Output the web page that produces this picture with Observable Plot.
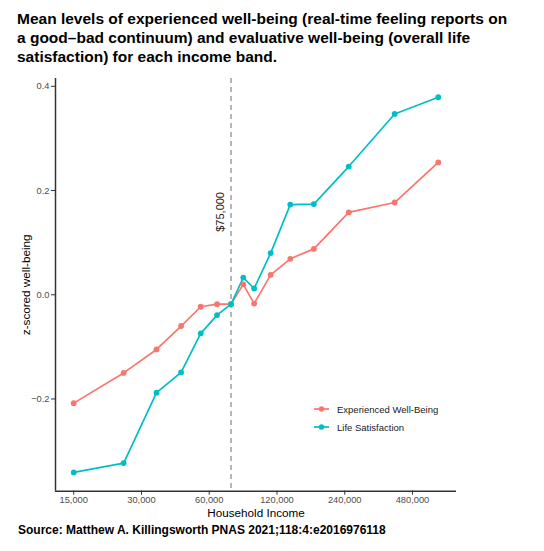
<!DOCTYPE html>
<html>
<head>
<meta charset="utf-8">
<script src="https://cdn.jsdelivr.net/npm/d3@7"></script>
<script src="https://cdn.jsdelivr.net/npm/@observablehq/plot@0.6"></script>
<style>
  html, body { margin: 0; padding: 0; background: #fff; }
  #wrap { position: relative; width: 544px; height: 551px; overflow: hidden; font-family: "Liberation Sans", Arial, sans-serif; }
  #title { position: absolute; left: 17px; top: 9px; font-weight: bold; font-size: 15.5px; line-height: 19px; color: #000; white-space: nowrap; }
  #chart { position: absolute; left: 0; top: 70px; }
  #caption { position: absolute; left: 18px; top: 523px; font-weight: bold; font-size: 12px; line-height: 14px; color: #000; white-space: nowrap; }
  #legend { position: absolute; left: 310px; top: 400px; font-size: 9.5px; color: #1a1a1a; }
  .row { display: flex; align-items: center; height: 18px; }
  .row svg { display: block; }
</style>
</head>
<body>
<div id="wrap">
  <div id="title">Mean levels of experienced well-being (real-time feeling reports on<br>a good–bad continuum) and evaluative well-being (overall life<br>satisfaction) for each income band.</div>
  <div id="chart"></div>
  <div id="legend"></div>
  <div id="caption">Source: Matthew A. Killingsworth PNAS 2021;118:4:e2016976118</div>
</div>
<script>
// ---- data ----
const incomes = [15000, 25000, 35000, 45000, 55000, 65000, 75000, 85000, 95000, 112500, 137500, 175000, 250000, 400000, 625000];
const experienced = [-0.208, -0.150, -0.105, -0.060, -0.023, -0.018, -0.018, 0.020, -0.017, 0.038, 0.069, 0.088, 0.158, 0.177, 0.254];
const lifeSatisfaction = [-0.341, -0.323, -0.188, -0.149, -0.074, -0.039, -0.018, 0.033, 0.012, 0.080, 0.173, 0.174, 0.246, 0.347, 0.379];
const seriesNames = ["Experienced Well-Being", "Life Satisfaction"];
const seriesColors = ["#F8766D", "#00BFC4"];
const xTicks = [15000, 30000, 60000, 120000, 240000, 480000];
const yTicks = [-0.2, 0.0, 0.2, 0.4];
const thresholdIncome = [75000];
const thresholdLabel = ["$75,000"];
const thresholdLabelY = [0.159];

// ---- build table ----
const rows = [];
incomes.forEach((inc, i) => {
  rows.push({income: inc, value: experienced[i], series: seriesNames[0]});
  rows.push({income: inc, value: lifeSatisfaction[i], series: seriesNames[1]});
});

// ggplot-like 5% expansion
const lx0 = Math.log2(d3.min(incomes)), lx1 = Math.log2(d3.max(incomes));
const xPad = (lx1 - lx0) * 0.05;
const xDomain = [2 ** (lx0 - xPad), 2 ** (lx1 + xPad)];
const allY = experienced.concat(lifeSatisfaction);
const y0 = d3.min(allY), y1 = d3.max(allY);
const yPad = (y1 - y0) * 0.05;
const yDomain = [y0 - yPad, y1 + yPad];

const fmtY = d => (d < 0 ? "−" : "") + Math.abs(d).toFixed(1);

const chart = Plot.plot({
  width: 544,
  height: 450,
  marginTop: 8,
  marginBottom: 29.3,
  marginLeft: 55,
  marginRight: 88,
  style: {fontFamily: "Liberation Sans, Arial, sans-serif", background: "#fff"},
  x: {type: "log", domain: xDomain},
  y: {domain: yDomain},
  color: {domain: seriesNames, range: seriesColors},
  marks: [
    Plot.ruleX(thresholdIncome, {stroke: "#999999", strokeWidth: 1.4, strokeDasharray: "5,4"}),
    Plot.text(thresholdIncome, {x: d => d, y: () => thresholdLabelY[0], text: () => thresholdLabel[0], rotate: -90, dx: -11, fontSize: 11, fill: "#1a1a1a"}),
    Plot.line(rows, {x: "income", y: "value", z: "series", stroke: "series", strokeWidth: 1.7}),
    Plot.dot(rows, {x: "income", y: "value", fill: "series", r: 2.9}),
    Plot.ruleY([yDomain[0]], {stroke: "#333", strokeWidth: 1.5}),
    Plot.ruleX([xDomain[0]], {stroke: "#333", strokeWidth: 1.5}),
    Plot.axisX({ticks: xTicks, tickFormat: d3.format(","), tickSize: 4, tickPadding: 1.5, fontSize: 9.3, color: "#4d4d4d", stroke: "#333",
      label: "Household Income", labelAnchor: "center", labelOffset: 26, labelArrow: "none"}),
    Plot.axisY({ticks: yTicks, tickFormat: fmtY, tickSize: 4, tickPadding: 2, fontSize: 9.3, color: "#4d4d4d", stroke: "#333",
      label: "z-scored well-being", labelAnchor: "center", labelOffset: 34, labelArrow: "none"})
  ]
});
// axis title styling
chart.querySelectorAll("[aria-label='x-axis label'] text, [aria-label='y-axis label'] text").forEach(t => {
  t.setAttribute("font-size", "11.7");
  t.setAttribute("fill", "#000");
});
document.getElementById("chart").appendChild(chart);

// legend
const legend = document.getElementById("legend");
seriesNames.forEach((name, i) => {
  const row = document.createElement("div");
  row.className = "row";
  row.innerHTML = `<svg width="27" height="18"><line x1="4" x2="19" y1="9" y2="9" stroke="${seriesColors[i]}" stroke-width="1.7"/><circle cx="11.5" cy="9" r="2.7" fill="${seriesColors[i]}"/></svg><span>${name}</span>`;
  legend.appendChild(row);
});
</script>
</body>
</html>
